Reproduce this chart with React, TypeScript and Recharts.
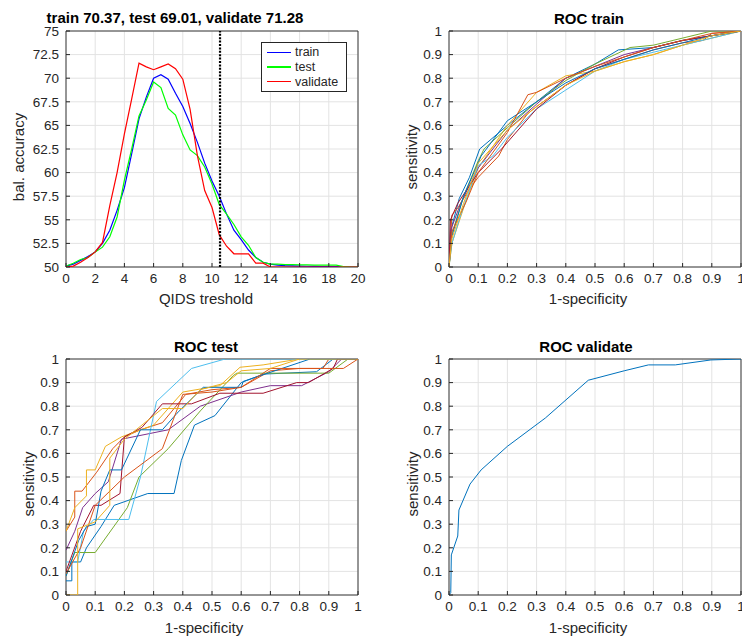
import React from 'react';
import {
  LineChart,
  Line,
  XAxis,
  YAxis,
  CartesianGrid,
  ReferenceLine,
  ReferenceArea,
} from 'recharts';

const FONT = '"Liberation Sans", Arial, Helvetica, sans-serif';
const INK = '#262626';
const GRID = '#e3e3e3';
const MATLAB = ['#0072BD', '#D95319', '#EDB120', '#7E2F8E', '#77AC30', '#4DBEEE', '#A2142F'];

// balanced accuracy vs QIDS threshold
const qidsThreshold = [
  0, 0.5, 1, 1.5, 2, 2.5, 3, 3.5, 4, 4.5, 5, 5.5, 6, 6.5, 7, 7.5, 8, 8.5, 9, 9.5, 10,
  10.5, 11, 11.5, 12, 12.5, 13, 13.5, 14, 14.5, 15, 15.5, 16, 16.5, 17, 17.5, 18, 18.5, 19, 19.5, 20,
];
const trainAcc = [
  50.1, 50.3, 50.7, 51.1, 51.6, 52.5, 53.9, 56, 58.4, 62, 65.7, 68, 70, 70.37, 69.9, 68.4, 67, 65.2, 63.2, 61, 59.1,
  57.5, 55.6, 53.9, 52.9, 51.8, 51, 50.5, 50.3, 50.2, 50.15, 50.12, 50.1, 50.08, 50.06, 50.05, 50.04, 50.03, 50.02, 50, 50,
];
const testAcc = [
  50.1, 50.4, 50.8, 51, 51.6, 52.1, 53.2, 55.3, 59.2, 62.5, 66, 67.7, 69.6, 69, 66.8, 66.1, 64, 62.4, 61.8, 60.6, 58.8,
  56.6, 55.6, 54.5, 53.2, 52.3, 51, 50.5, 50.3, 50.3, 50.25, 50.25, 50.22, 50.22, 50.2, 50.2, 50.2, 50.2, 50.05, 50, 50,
];
const validateAcc = [
  50, 50.1, 50.5, 51, 51.6, 52.6, 56.5, 60, 64.1, 67.8, 71.6, 71.2, 70.9, 71.2, 71.5, 71, 69.9, 66.7, 61.8, 58.1, 56.3,
  53.4, 52.2, 51.4, 51.4, 51.4, 50.4, 50.4, 50, 50, 50, 50, 50, 50, 50, 50, 50, 50, 50, 50, 50,
];
const cutoff = 10.55;
const accTicks = [50, 52.5, 55, 57.5, 60, 62.5, 65, 67.5, 70, 72.5, 75];
const qidsTicks = [0, 2, 4, 6, 8, 10, 12, 14, 16, 18, 20];
const rocTicks = [0, 0.1, 0.2, 0.3, 0.4, 0.5, 0.6, 0.7, 0.8, 0.9, 1];

// ROC curves: [1-specificity, sensitivity]
type Pt = [number, number];
const rocTrainRuns: Pt[][] = [
  [[0, 0], [0.005, 0.15], [0.035, 0.29], [0.07, 0.38], [0.105, 0.5], [0.2, 0.6], [0.3, 0.7], [0.4, 0.8], [0.5, 0.86], [0.58, 0.92], [0.7, 0.93], [0.8, 0.96], [0.9, 0.98], [1, 1]],
  [[0, 0], [0.01, 0.22], [0.03, 0.25], [0.07, 0.33], [0.1, 0.38], [0.17, 0.47], [0.2, 0.54], [0.27, 0.65], [0.3, 0.68], [0.4, 0.77], [0.5, 0.84], [0.6, 0.88], [0.7, 0.92], [0.8, 0.95], [0.87, 0.96], [0.9, 0.99], [1, 1]],
  [[0, 0], [0.01, 0.1], [0.05, 0.25], [0.1, 0.42], [0.2, 0.6], [0.3, 0.74], [0.4, 0.81], [0.5, 0.83], [0.6, 0.87], [0.7, 0.9], [0.8, 0.94], [0.9, 0.97], [1, 1]],
  [[0, 0], [0.01, 0.17], [0.04, 0.27], [0.1, 0.42], [0.2, 0.58], [0.3, 0.69], [0.4, 0.8], [0.5, 0.85], [0.6, 0.9], [0.7, 0.93], [0.8, 0.96], [0.9, 0.98], [1, 1]],
  [[0, 0], [0.01, 0.14], [0.05, 0.3], [0.1, 0.45], [0.12, 0.5], [0.2, 0.59], [0.3, 0.7], [0.4, 0.79], [0.5, 0.86], [0.62, 0.93], [0.7, 0.94], [0.8, 0.97], [0.9, 1], [1, 1]],
  [[0, 0], [0.01, 0.1], [0.04, 0.22], [0.1, 0.43], [0.15, 0.47], [0.2, 0.55], [0.3, 0.67], [0.4, 0.75], [0.5, 0.83], [0.6, 0.88], [0.7, 0.91], [0.8, 0.94], [0.9, 0.97], [1, 1]],
  [[0, 0], [0.005, 0.2], [0.03, 0.27], [0.1, 0.4], [0.18, 0.5], [0.3, 0.67], [0.4, 0.77], [0.5, 0.84], [0.6, 0.89], [0.7, 0.93], [0.8, 0.96], [0.9, 0.98], [0.95, 0.99], [1, 1]],
  [[0, 0], [0.01, 0.13], [0.05, 0.3], [0.11, 0.47], [0.2, 0.62], [0.3, 0.7], [0.4, 0.78], [0.5, 0.84], [0.6, 0.88], [0.7, 0.92], [0.8, 0.95], [0.9, 0.98], [1, 1]],
  [[0, 0], [0.01, 0.15], [0.06, 0.28], [0.1, 0.4], [0.2, 0.57], [0.27, 0.73], [0.3, 0.74], [0.4, 0.8], [0.5, 0.85], [0.6, 0.89], [0.7, 0.93], [0.8, 0.96], [0.9, 0.99], [1, 1]],
  [[0, 0], [0.01, 0.12], [0.05, 0.27], [0.1, 0.44], [0.2, 0.58], [0.3, 0.68], [0.4, 0.77], [0.5, 0.83], [0.6, 0.87], [0.7, 0.9], [0.8, 0.94], [0.9, 0.98], [1, 1]],
];
const rocTestRuns: Pt[][] = [
  [[0, 0.06], [0.02, 0.06], [0.02, 0.14], [0.05, 0.14], [0.07, 0.2], [0.12, 0.29], [0.165, 0.38], [0.28, 0.43], [0.37, 0.43], [0.395, 0.57], [0.44, 0.72], [0.51, 0.76], [0.6, 0.9], [0.676, 0.936], [0.858, 0.946], [0.915, 1], [1, 1]],
  [[0, 0.27], [0.03, 0.33], [0.03, 0.44], [0.055, 0.44], [0.105, 0.52], [0.16, 0.62], [0.2, 0.67], [0.255, 0.7], [0.33, 0.73], [0.41, 0.85], [0.5, 0.87], [0.6, 0.88], [0.7, 0.95], [0.8, 0.96], [0.88, 0.96], [0.9, 1], [1, 1]],
  [[0, 0.27], [0.03, 0.37], [0.07, 0.42], [0.07, 0.53], [0.1, 0.53], [0.135, 0.63], [0.19, 0.67], [0.3, 0.72], [0.4, 0.86], [0.527, 0.887], [0.596, 0.965], [0.675, 0.975], [0.8, 1], [1, 1]],
  [[0, 0.19], [0.03, 0.27], [0.057, 0.37], [0.1, 0.43], [0.145, 0.48], [0.19, 0.66], [0.35, 0.7], [0.46, 0.8], [0.6, 0.86], [0.7, 0.887], [0.807, 0.887], [0.9, 0.946], [0.944, 1], [1, 1]],
  [[0, 0.08], [0.03, 0.18], [0.1, 0.18], [0.21, 0.37], [0.25, 0.5], [0.35, 0.62], [0.46, 0.78], [0.573, 0.93], [0.585, 0.94], [0.9, 0.94], [0.966, 1], [1, 1]],
  [[0, 0.14], [0.04, 0.14], [0.06, 0.27], [0.095, 0.32], [0.215, 0.32], [0.255, 0.5], [0.31, 0.82], [0.43, 0.96], [0.545, 1], [1, 1]],
  [[0, 0.1], [0.05, 0.27], [0.095, 0.38], [0.12, 0.38], [0.185, 0.43], [0.2, 0.67], [0.26, 0.71], [0.33, 0.81], [0.43, 0.81], [0.527, 0.855], [0.675, 0.855], [0.79, 0.9], [0.83, 0.9], [0.915, 0.96], [0.93, 1], [1, 1]],
  [[0, 0.08], [0.043, 0.23], [0.07, 0.29], [0.1, 0.3], [0.12, 0.44], [0.15, 0.53], [0.19, 0.53], [0.255, 0.7], [0.33, 0.7], [0.38, 0.77], [0.47, 0.88], [0.6, 0.88], [0.607, 0.905], [0.836, 1], [1, 1]],
  [[0, 0.09], [0.05, 0.2], [0.1, 0.38], [0.2, 0.5], [0.33, 0.62], [0.4, 0.85], [0.5, 0.86], [0.6, 0.88], [0.7, 0.96], [0.95, 0.96], [1, 1]],
  [[0, 0], [0.04, 0], [0.04, 0.28], [0.1, 0.31], [0.15, 0.38], [0.15, 0.58], [0.2, 0.66], [0.33, 0.79], [0.4, 0.79], [0.46, 0.87], [0.55, 0.9], [0.6, 0.95], [0.7, 0.96], [0.8, 1], [1, 1]],
];
const rocValidate: Pt[] = [
  [0, 0], [0.006, 0.01], [0.008, 0.17], [0.03, 0.25], [0.034, 0.36], [0.072, 0.47], [0.11, 0.53], [0.2, 0.63],
  [0.33, 0.75], [0.477, 0.91], [0.6, 0.95], [0.683, 0.975], [0.775, 0.975], [0.897, 0.996], [1, 1],
];

const accSeries = [
  { name: 'train', color: '#0000ff', values: trainAcc },
  { name: 'test', color: '#00ff00', values: testAcc },
  { name: 'validate', color: '#ff0000', values: validateAcc },
];

const toXY = (pts: Pt[]) => pts.map(([x, y]) => ({ x, y }));

const PW = 292;
const PH = 236;

function Panel({ left, top, xDomain, yDomain, xTicks, yTicks, children }: any) {
  return (
    <div style={{ position: 'absolute', left: left - 70, top: top - 40 }}>
      <LineChart width={PW + 80} height={PH + 80} margin={{ top: 40, right: 10, left: 0, bottom: 0 }}>
        <CartesianGrid stroke={GRID} strokeWidth={1} />
        <XAxis
          type="number"
          dataKey="x"
          domain={xDomain}
          ticks={xTicks}
          allowDataOverflow
          height={40}
          axisLine={false}
          tickLine={{ stroke: INK }}
          tickSize={-4}
          tickMargin={10}
          tick={{ fill: INK, fontSize: 13.5, fontFamily: FONT }}
          interval={0}
        />
        <YAxis
          type="number"
          domain={yDomain}
          ticks={yTicks}
          allowDataOverflow
          width={70}
          axisLine={false}
          tickLine={{ stroke: INK }}
          tickSize={-4}
          tickMargin={11}
          tick={{ fill: INK, fontSize: 13.5, fontFamily: FONT }}
          interval={0}
        />
        {children}
        <ReferenceArea
          x1={xDomain[0]}
          x2={xDomain[1]}
          y1={yDomain[0]}
          y2={yDomain[1]}
          fill="none"
          fillOpacity={0}
          stroke={INK}
          strokeWidth={0.9}
        />
      </LineChart>
    </div>
  );
}

function Txt({ x, y, size = 15, bold = false, rotate = false, color = INK, children }: any) {
  return (
    <div
      style={{
        position: 'absolute',
        left: x,
        top: y,
        transform: `translate(-50%, -50%)${rotate ? ' rotate(-90deg)' : ''}`,
        whiteSpace: 'nowrap',
        fontFamily: FONT,
        fontSize: size,
        fontWeight: bold ? 'bold' : 'normal',
        lineHeight: 1,
        color,
      }}
    >
      {children}
    </div>
  );
}

export default function App() {
  const accData = qidsThreshold.map((q, i) => ({
    x: q,
    train: trainAcc[i],
    test: testAcc[i],
    validate: validateAcc[i],
  }));

  return (
    <div
      style={{
        position: 'absolute',
        left: 0,
        top: 0,
        width: 742,
        height: 639,
        overflow: 'hidden',
        background: '#fff',
      }}
    >
      {/* balanced accuracy */}
      <Panel left={66} top={31} xDomain={[0, 20]} yDomain={[50, 75]} xTicks={qidsTicks} yTicks={accTicks}>
        {accSeries.map((s) => (
          <Line
            key={s.name}
            data={accData}
            dataKey={s.name}
            stroke={s.color}
            strokeWidth={1.2}
            dot={false}
            type="linear"
            isAnimationActive={false}
          />
        ))}
        <ReferenceLine x={cutoff} stroke="#000" strokeWidth={2.2} strokeDasharray="2 1.4" />
      </Panel>

      {/* ROC train */}
      <Panel left={449} top={31} xDomain={[0, 1]} yDomain={[0, 1]} xTicks={rocTicks} yTicks={rocTicks}>
        {rocTrainRuns.map((run, i) => (
          <Line
            key={i}
            data={toXY(run)}
            dataKey="y"
            stroke={MATLAB[i % MATLAB.length]}
            strokeWidth={1}
            dot={false}
            type="linear"
            isAnimationActive={false}
          />
        ))}
      </Panel>

      {/* ROC test */}
      <Panel left={66} top={359} xDomain={[0, 1]} yDomain={[0, 1]} xTicks={rocTicks} yTicks={rocTicks}>
        {rocTestRuns.map((run, i) => (
          <Line
            key={i}
            data={toXY(run)}
            dataKey="y"
            stroke={MATLAB[i % MATLAB.length]}
            strokeWidth={1}
            dot={false}
            type="linear"
            isAnimationActive={false}
          />
        ))}
      </Panel>

      {/* ROC validate */}
      <Panel left={449} top={359} xDomain={[0, 1]} yDomain={[0, 1]} xTicks={rocTicks} yTicks={rocTicks}>
        <Line
          data={toXY(rocValidate)}
          dataKey="y"
          stroke={MATLAB[0]}
          strokeWidth={1}
          dot={false}
          type="linear"
          isAnimationActive={false}
        />
      </Panel>

      {/* titles */}
      <Txt x={175} y={17} bold color="#000">train 70.37, test 69.01, validate 71.28</Txt>
      <Txt x={589} y={18} bold color="#000">ROC train</Txt>
      <Txt x={206} y={346} bold color="#000">ROC test</Txt>
      <Txt x={586} y={346} bold color="#000">ROC validate</Txt>

      {/* axis labels */}
      <Txt x={206} y={298}>QIDS treshold</Txt>
      <Txt x={18} y={157} rotate>bal. accuracy</Txt>
      <Txt x={588} y={298}>1-specificity</Txt>
      <Txt x={411} y={157} rotate>sensitivity</Txt>
      <Txt x={204} y={627}>1-specificity</Txt>
      <Txt x={28} y={484} rotate>sensitivity</Txt>
      <Txt x={588} y={627}>1-specificity</Txt>
      <Txt x={412} y={484} rotate>sensitivity</Txt>

      {/* legend */}
      <div
        style={{
          position: 'absolute',
          left: 261,
          top: 42,
          width: 84,
          height: 46,
          border: `1px solid ${INK}`,
          background: '#fff',
          fontFamily: FONT,
          fontSize: 12.5,
          color: INK,
          paddingTop: 2,
          boxSizing: 'content-box',
        }}
      >
        {accSeries.map((s) => (
          <div key={s.name} style={{ display: 'flex', alignItems: 'center', height: 14.7 }}>
            <span style={{ display: 'inline-block', width: 24, height: 1.2, background: s.color, marginLeft: 5, marginRight: 4 }} />
            <span>{s.name}</span>
          </div>
        ))}
      </div>
    </div>
  );
}
